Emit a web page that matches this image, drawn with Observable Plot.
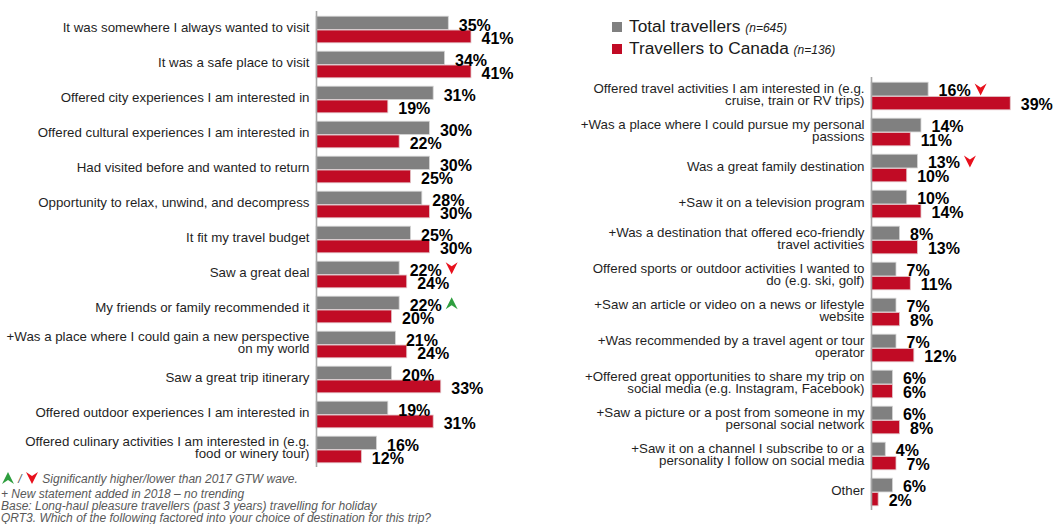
<!DOCTYPE html>
<html>
<head>
<meta charset="utf-8">
<script src="https://cdn.jsdelivr.net/npm/d3@7"></script>
<script src="https://cdn.jsdelivr.net/npm/@observablehq/plot@0.6"></script>
<style>
  html, body { margin: 0; padding: 0; background: #fff; }
  #wrap { position: relative; width: 1058px; height: 524px; overflow: hidden; font-family: 'Liberation Sans', Arial, sans-serif; }
  #left, #right { position: absolute; top: 0; }
  #left { left: 0; }
  #right { left: 560px; }
  .legend { position: absolute; left: 612px; color: #1a1a1a; font-size: 17.3px; line-height: 1; white-space: nowrap; }
  .legend .sw { display: inline-block; width: 10px; height: 10px; margin-right: 7px; vertical-align: 0px; }
  .legend i { font-size: 12px; }
  .foot { position: absolute; left: 1px; font-size: 12px; font-style: italic; color: #595959; white-space: nowrap; line-height: 1; }
  .foot svg { vertical-align: -1px; }
</style>
</head>
<body>
<div id="wrap">
  <div id="left"></div>
  <div id="right"></div>
  <div class="legend" id="leg1" style="top:18px"><span class="sw" style="background:#808080"></span>Total travellers <i>(n=645)</i></div>
  <div class="legend" id="leg2" style="top:40px"><span class="sw" style="background:#C10B25"></span>Travellers to Canada <i>(n=136)</i></div>
  <div class="foot" style="top:472px"><svg width="14" height="12" viewBox="-7 -6 14 12"><path d="M0,-6L6,6L0,2L-6,6Z" fill="#2E9E3E"/></svg> / <svg width="14" height="12" viewBox="-7 -6 14 12"><path d="M0,6L6,-6L0,-2L-6,-6Z" fill="#E8101C"/></svg> Significantly higher/lower than 2017 GTW wave.</div>
  <div class="foot" style="top:488px">+ New statement added in 2018 – no trending</div>
  <div class="foot" style="top:500px">Base: Long-haul pleasure travellers (past 3 years) travelling for holiday</div>
  <div class="foot" style="top:512px">QRT3. Which of the following factored into your choice of destination for this trip?</div>
</div>
<script>
// ---- Data ----
const seriesNames = ["Total travellers", "Travellers to Canada"];

const leftCategories = [
  "It was somewhere I always wanted to visit",
  "It was a safe place to visit",
  "Offered city experiences I am interested in",
  "Offered cultural experiences I am interested in",
  "Had visited before and wanted to return",
  "Opportunity to relax, unwind, and decompress",
  "It fit my travel budget",
  "Saw a great deal",
  "My friends or family recommended it",
  "+Was a place where I could gain a new perspective\non my world",
  "Saw a great trip itinerary",
  "Offered outdoor experiences I am interested in",
  "Offered culinary activities I am interested in (e.g.\nfood or winery tour)"
];
const leftTotal  = [35, 34, 31, 30, 30, 28, 25, 22, 22, 21, 20, 19, 16];
const leftCanada = [41, 41, 19, 22, 25, 30, 30, 24, 20, 24, 33, 31, 12];
const leftSig    = ["", "", "", "", "", "", "", "down", "up", "", "", "", ""];

const rightCategories = [
  "Offered travel activities I am interested in (e.g.\ncruise, train or RV trips)",
  "+Was a place where I could pursue my personal\npassions",
  "Was a great family destination",
  "+Saw it on a television program",
  "+Was a destination that offered eco-friendly\ntravel activities",
  "Offered sports or outdoor activities I wanted to\ndo (e.g. ski, golf)",
  "+Saw an article or video on a news or lifestyle\nwebsite",
  "+Was recommended by a travel agent or tour\noperator",
  "+Offered great opportunities to share my trip on\nsocial media (e.g. Instagram, Facebook)",
  "+Saw a picture or a post from someone in my\npersonal social network",
  "+Saw it on a channel I subscribe to or a\npersonality I follow on social media",
  "Other"
];
const rightTotal  = [16, 14, 13, 10, 8, 7, 7, 7, 6, 6, 4, 6];
const rightCanada = [39, 11, 10, 14, 13, 11, 8, 12, 6, 8, 7, 2];
const rightSig    = ["down", "", "down", "", "", "", "", "", "", "", "", ""];

// ---- Styling ----
const GRAY = "#808080", RED = "#C10B25";
const upSymbol = { draw(ctx) { ctx.moveTo(0, -6); ctx.lineTo(6, 6); ctx.lineTo(0, 2); ctx.lineTo(-6, 6); ctx.closePath(); } };
const downSymbol = { draw(ctx) { ctx.moveTo(0, 6); ctx.lineTo(6, -6); ctx.lineTo(0, -2); ctx.lineTo(-6, -6); ctx.closePath(); } };

function panel({cats, total, canada, sig, width, height, marginLeft, marginTop, marginBottom, pxPerPct, grayDy, redDy}) {
  const rows = cats.map((c, i) => ({c, total: total[i], canada: canada[i], sig: sig[i]}));
  const bw = (height - marginTop - marginBottom) / cats.length;
  const pad = 4.2;
  const grayCenter = (pad - bw / 2) / 2;
  return Plot.plot({
    width, height, marginLeft, marginTop, marginBottom, marginRight: 0,
    style: {fontFamily: "'Liberation Sans', Arial, sans-serif", background: "transparent", overflow: "visible"},
    x: {domain: [0, 100], range: [marginLeft, marginLeft + pxPerPct * 100], axis: null},
    y: {domain: cats, padding: 0, label: null},
    marks: [
      Plot.barX(rows, {y: "c", x: "total", fill: GRAY, stroke: "#d4d4d4", strokeWidth: 0.8, insetTop: pad, insetBottom: bw / 2}),
      Plot.barX(rows, {y: "c", x: "canada", fill: RED, stroke: "#e2c4c8", strokeWidth: 0.8, insetTop: bw / 2 + 0.5, insetBottom: pad}),
      Plot.ruleX([0], {stroke: "#a6a6a6", strokeWidth: 1.6}),
      Plot.axisY({tickSize: 0, tickPadding: 7, fontSize: 13.3, lineHeight: 0.9, dy: -1.5, color: "#1f1f1f", label: null}),
      Plot.text(rows, {y: "c", x: "total", text: d => d.total + "%", dx: 10, dy: grayDy, textAnchor: "start", fontWeight: "bold", fontSize: 16, fill: "#000"}),
      Plot.text(rows, {y: "c", x: "canada", text: d => d.canada + "%", dx: 10, dy: redDy, textAnchor: "start", fontWeight: "bold", fontSize: 16, fill: "#000"}),
      Plot.dot(rows.filter(d => d.sig === "up"), {y: "c", x: "total", dx: 52, dy: grayCenter, symbol: upSymbol, fill: "#2E9E3E", stroke: "none"}),
      Plot.dot(rows.filter(d => d.sig === "down"), {y: "c", x: "total", dx: 52, dy: grayCenter, symbol: downSymbol, fill: "#E8101C", stroke: "none"})
    ]
  });
}

document.getElementById("left").append(panel({
  cats: leftCategories, total: leftTotal, canada: leftCanada, sig: leftSig,
  width: 540, height: 470, marginLeft: 316, marginTop: 11, marginBottom: 3, pxPerPct: 3.78, grayDy: -4.5, redDy: 9
}));
document.getElementById("right").append(panel({
  cats: rightCategories, total: rightTotal, canada: rightCanada, sig: rightSig,
  width: 498, height: 524, marginLeft: 311, marginTop: 77, marginBottom: 14, pxPerPct: 3.57, grayDy: -5.5, redDy: 8
}));
</script>
</body>
</html>
